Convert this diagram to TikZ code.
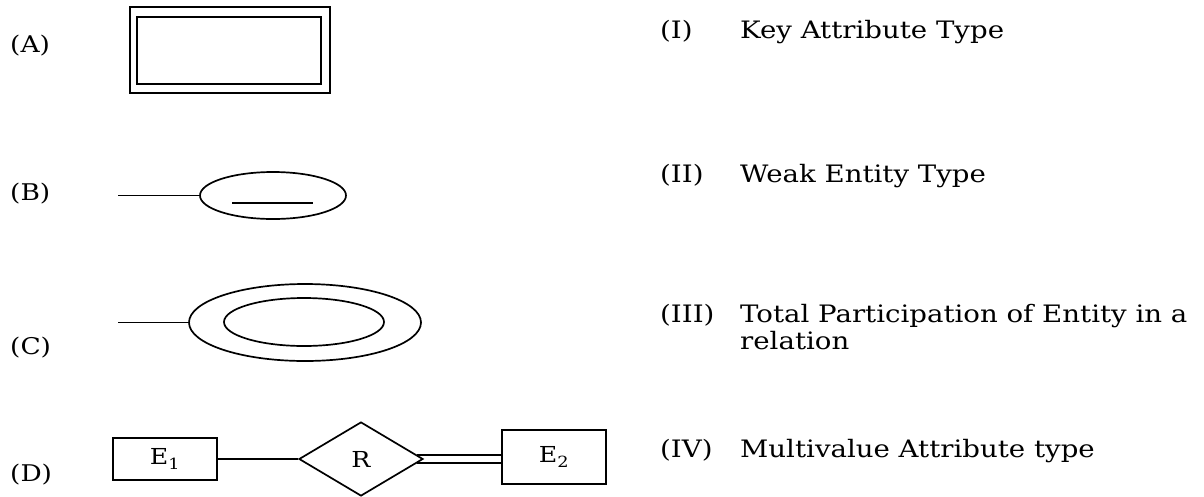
\documentclass[tikz,border=0pt]{standalone}
\usepackage{fontspec}
\setmainfont{DejaVu Serif}[FakeStretch=1.15]
\usetikzlibrary{shapes.geometric,calc}
\begin{document}
\begin{tikzpicture}[x=1pt,y=-1pt,
  lw/.style={line width=1.7pt},
  lbl/.style={anchor=base west,inner sep=0pt,font=\fontsize{24}{28}\selectfont},
  llbl/.style={anchor=base west,inner sep=0pt,font=\fontsize{23}{27}\selectfont},
  boxtxt/.style={font=\fontsize{22}{26}\selectfont},
  entity/.style={draw,lw,rectangle,inner sep=0pt},
  attr/.style={draw,lw,ellipse,inner sep=0pt},
  rel/.style={draw,lw,diamond,inner sep=0pt}]
\useasboundingbox (0,0) rectangle (1204,496);
% left labels
\node[llbl] (la) at (10,52) {(A)};
\node[llbl] (lb) at (10,200) {(B)};
\node[llbl] (lc) at (10,354) {(C)};
\node[llbl] (ld) at (10,481) {(D)};
% (A) weak entity
\node[entity,minimum width=200pt,minimum height=86pt] (Ao) at (230,50) {};
\node[entity,minimum width=184pt,minimum height=67pt] (Ai) at (229,50.5) {};
% (B) key attribute
\coordinate (bs) at (118,195.5);
\node[attr,minimum width=146pt,minimum height=47pt] (B) at (273,195.5) {};
\draw[lw] (bs) -- (B.west);
\coordinate (bu1) at (232,203);
\coordinate (bu2) at (313,203);
\draw[lw] (bu1) -- (bu2);
% (C) multivalued attribute
\coordinate (cs) at (118,322.5);
\node[attr,minimum width=232pt,minimum height=77pt] (Co) at (305,322.5) {};
\node[attr,minimum width=160pt,minimum height=48pt] (Ci) at (304,322) {};
\draw[lw] (cs) -- (Co.west);
% (D) total participation
\node[entity,minimum width=104pt,minimum height=42pt,boxtxt] (E1) at (165,459) {E\textsubscript{1}};
\node[rel,minimum width=124pt,minimum height=74pt,boxtxt] (R) at (361,459) {R};
\node[entity,minimum width=104pt,minimum height=54pt,boxtxt] (E2) at (554,457) {E\textsubscript{2}};
\draw[lw] (E1.east) -- (R.west);
\coordinate (r1) at ([shift={(-6.7pt,4pt)}]R.east);
\coordinate (r2) at ([shift={(-6.7pt,-4pt)}]R.east);
\draw[lw] (r1) -- (r1 -| E2.west);
\draw[lw] (r2) -- (r2 -| E2.west);
% right labels
\node[lbl] (l1) at (660,38) {(I)};
\node[lbl] (t1) at (740,38) {Key Attribute Type};
\node[lbl] (l2) at (660,182) {(II)};
\node[lbl] (t2) at (740,182) {Weak Entity Type};
\node[lbl] (l3) at (660,322) {(III)};
\node[lbl] (t3) at (740,322) {Total Participation of Entity in a};
\node[lbl] (t3b) at (740,349) {relation};
\node[lbl] (l4) at (660,457) {(IV)};
\node[lbl] (t4) at (740,457) {Multivalue Attribute type};
\end{tikzpicture}
\end{document}
